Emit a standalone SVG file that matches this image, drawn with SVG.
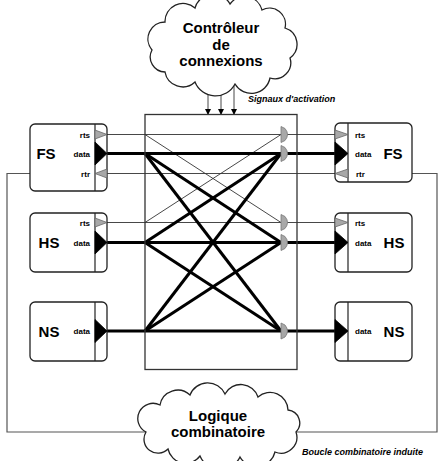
<svg xmlns="http://www.w3.org/2000/svg" width="440" height="461" viewBox="0 0 440 461">
<defs>
<style>
.box{fill:#fff;stroke:#222;stroke-width:1.3}
.inner{stroke:#222;stroke-width:1.2}
.cloud{fill:#fff;stroke:#222;stroke-width:1.3}
.thin{stroke:#333;stroke-width:0.9;fill:none}
.thick{stroke:#000;stroke-width:3;fill:none}
.loop{stroke:#555;stroke-width:1.2;fill:none}
.gtri{fill:#a8a8a8;stroke:#666;stroke-width:0.8}
.btri{fill:#000;stroke:#000;stroke-width:0.8}
.mux{fill:#a8a8a8;stroke:#777;stroke-width:0.8}
.big{font-family:"Liberation Sans",Arial,sans-serif;font-weight:bold;font-size:15px;fill:#000}
.cl{font-family:"Liberation Sans",Arial,sans-serif;font-weight:bold;font-size:15px;fill:#000;text-anchor:middle}
.port{font-family:"Liberation Sans",Arial,sans-serif;font-weight:bold;font-size:8px;fill:#000}
.note{font-family:"Liberation Sans",Arial,sans-serif;font-weight:bold;font-style:italic;font-size:9px;fill:#000}
</style>
<marker id="ah" markerWidth="6" markerHeight="6" refX="5" refY="3" orient="auto" markerUnits="userSpaceOnUse">
<path d="M0,0 L6,3 L0,6 Z" fill="#000"/>
</marker>
</defs>
<rect width="440" height="461" fill="#fff"/>

<g id="connectors">
<!-- loop -->
<polyline class="loop" points="76,173.5 7,173.5 7,432 146,432"/>
<polyline class="loop" points="370,173.5 437,173.5 437,432 295,432"/>
<!-- control arrows -->
<line class="thin" x1="208" y1="83" x2="208" y2="114" marker-end="url(#ah)"/>
<line class="thin" x1="221" y1="84" x2="221" y2="114" marker-end="url(#ah)"/>
<line class="thin" x1="234" y1="83" x2="234" y2="114" marker-end="url(#ah)"/>
<!-- thin signals -->
<line class="thin" x1="107" y1="134.5" x2="335" y2="134.5"/>
<line class="thin" x1="95" y1="173.5" x2="348" y2="173.5"/>
<line class="thin" x1="107" y1="222.5" x2="335" y2="222.5"/>
<line class="thin" x1="145" y1="134.5" x2="281" y2="222.5"/>
<line class="thin" x1="145" y1="222.5" x2="281" y2="134.5"/>
<!-- thick data -->
<line class="thick" x1="107" y1="153.5" x2="335" y2="153.5"/>
<line class="thick" x1="107" y1="242.5" x2="335" y2="242.5"/>
<line class="thick" x1="107" y1="331" x2="335" y2="331"/>
<line class="thick" x1="145" y1="153.5" x2="281" y2="242.5"/>
<line class="thick" x1="145" y1="153.5" x2="281" y2="331"/>
<line class="thick" x1="145" y1="242.5" x2="281" y2="153.5"/>
<line class="thick" x1="145" y1="242.5" x2="281" y2="331"/>
<line class="thick" x1="145" y1="331" x2="281" y2="153.5"/>
<line class="thick" x1="145" y1="331" x2="281" y2="242.5"/>
</g>

<g id="crossbar">
<rect x="145" y="114.5" width="152" height="255" fill="none" stroke="#333" stroke-width="1.3"/>
<path class="mux" d="M281,126.5 L285,128.5 Q290,134.5 285,140.5 L281,142.5 Z"/>
<path class="mux" d="M281,145.5 L285,147.5 Q290,153.5 285,159.5 L281,161.5 Z"/>
<path class="mux" d="M281,214.5 L285,216.5 Q290,222.5 285,228.5 L281,230.5 Z"/>
<path class="mux" d="M281,234.5 L285,236.5 Q290,242.5 285,248.5 L281,250.5 Z"/>
<path class="mux" d="M281,323 L285,325 Q290,331 285,337 L281,339 Z"/>
</g>

<g id="ctrl-cloud">
<path class="cloud" d="M152,50 A17,17 0 0 1 165,22 A18,18 0 0 1 195,8 A19,19 0 0 1 230,4 A18,18 0 0 1 262,10 A16,16 0 0 1 285,28 A17,17 0 0 1 290,58 A16,16 0 0 1 270,78 A19,19 0 0 1 235,84 A22,22 0 0 1 195,82 A18,18 0 0 1 165,72 A15,15 0 0 1 152,50 Z"/>
<text class="cl" x="221" y="33">Contrôleur</text>
<text class="cl" x="221" y="50">de</text>
<text class="cl" x="221" y="66">connexions</text>
</g>
<text class="note" x="248" y="102">Signaux d'activation</text>

<g id="logic-cloud">
<path class="cloud" d="M146,432 A15,15 0 0 1 160,405 A18,18 0 0 1 190,395 A19,19 0 0 1 225,394 A18,18 0 0 1 258,397 A18,18 0 0 1 288,410 A13,13 0 0 1 296,432 A16,16 0 0 1 275,452 A19,19 0 0 1 240,457 A22,22 0 0 1 200,456 A18,18 0 0 1 168,449 A14,14 0 0 1 146,432 Z"/>
<text class="cl" x="218" y="421">Logique</text>
<text class="cl" x="218" y="437">combinatoire</text>
</g>
<text class="note" x="302" y="455">Boucle combinatoire induite</text>

<g id="fs-left">
<rect class="box" x="30" y="124" width="77" height="67" rx="5"/>
<line class="inner" x1="95" y1="124" x2="95" y2="191"/>
<polygon class="gtri" points="95,130 107,134.5 95,139"/>
<polygon class="btri" points="95,142 107,153.5 95,165"/>
<polygon class="gtri" points="107,169 95,173.5 107,178"/>
<text class="port" x="90" y="137.5" text-anchor="end">rts</text>
<text class="port" x="90" y="156.5" text-anchor="end">data</text>
<text class="port" x="90" y="176.5" text-anchor="end">rtr</text>
<text class="big" x="46" y="159" text-anchor="middle">FS</text>
</g>

<g id="hs-left">
<rect class="box" x="30" y="213" width="77" height="59" rx="5"/>
<line class="inner" x1="95" y1="213" x2="95" y2="272"/>
<polygon class="gtri" points="95,218 107,222.5 95,227"/>
<polygon class="btri" points="95,231 107,242.5 95,254"/>
<text class="port" x="90" y="225.5" text-anchor="end">rts</text>
<text class="port" x="90" y="245.5" text-anchor="end">data</text>
<text class="big" x="49" y="248" text-anchor="middle">HS</text>
</g>

<g id="ns-left">
<rect class="box" x="30" y="302" width="77" height="59" rx="5"/>
<line class="inner" x1="95" y1="302" x2="95" y2="361"/>
<polygon class="btri" points="95,319.5 107,331 95,342.5"/>
<text class="port" x="90" y="334" text-anchor="end">data</text>
<text class="big" x="49" y="336.5" text-anchor="middle">NS</text>
</g>

<g id="fs-right">
<rect class="box" x="335" y="123" width="77" height="59" rx="5"/>
<line class="inner" x1="348" y1="123" x2="348" y2="182"/>
<polygon class="gtri" points="335,130 348,134.5 335,139"/>
<polygon class="btri" points="335,142 348,153.5 335,165"/>
<polygon class="gtri" points="348,169 335,173.5 348,178"/>
<text class="port" x="355" y="137.5">rts</text>
<text class="port" x="355" y="156.5">data</text>
<text class="port" x="356" y="176.5">rtr</text>
<text class="big" x="393" y="159" text-anchor="middle">FS</text>
</g>

<g id="hs-right">
<rect class="box" x="335" y="213" width="77" height="59" rx="5"/>
<line class="inner" x1="348" y1="213" x2="348" y2="272"/>
<polygon class="gtri" points="335,218 348,222.5 335,227"/>
<polygon class="btri" points="335,231 348,242.5 335,254"/>
<text class="port" x="355" y="225.5">rts</text>
<text class="port" x="355" y="245.5">data</text>
<text class="big" x="394" y="248" text-anchor="middle">HS</text>
</g>

<g id="ns-right">
<rect class="box" x="335" y="302" width="77" height="59" rx="5"/>
<line class="inner" x1="348" y1="302" x2="348" y2="361"/>
<polygon class="btri" points="335,319.5 348,331 335,342.5"/>
<text class="port" x="355" y="334">data</text>
<text class="big" x="394" y="336.5" text-anchor="middle">NS</text>
</g>
</svg>
